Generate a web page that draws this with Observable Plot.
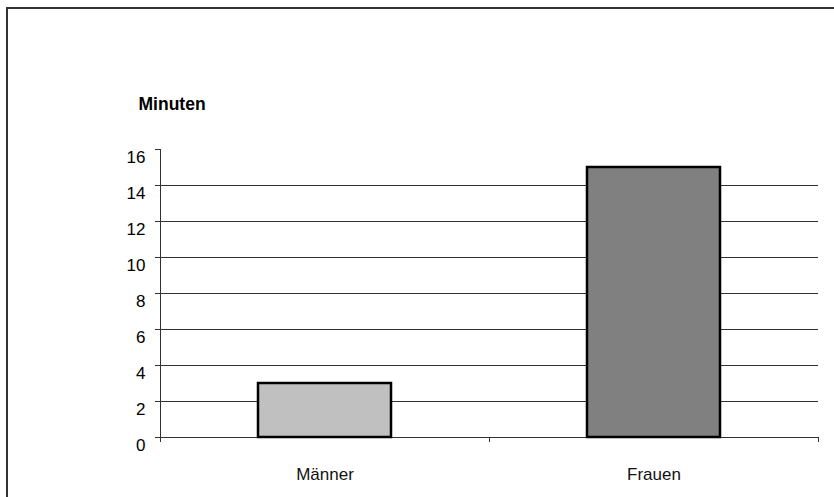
<!DOCTYPE html>
<html>
<head>
<meta charset="utf-8">
<script src="https://cdn.jsdelivr.net/npm/d3@7"></script>
<script src="https://cdn.jsdelivr.net/npm/@observablehq/plot@0.6"></script>
<style>
  html, body { margin: 0; padding: 0; background: #fff; }
  #wrap { position: relative; width: 834px; height: 497px; overflow: hidden; }
  #frame { position: absolute; left: 6px; top: 7px; width: 900px; height: 600px;
           border-left: 2px solid #333; border-top: 2px solid #333; box-sizing: border-box; }
  #chart { position: absolute; left: 0; top: 0; }
</style>
</head>
<body>
<div id="wrap"><div id="frame"></div><div id="chart"></div></div>
<script>
const categories = ["Männer", "Frauen"];
const values = [3, 15];
const barColors = ["#c0c0c0", "#808080"];
const yTicks = [0, 2, 4, 6, 8, 10, 12, 14, 16];
const gridValues = [2, 4, 6, 8, 10, 12, 14];
const yTitle = "Minuten";

const data = categories.map((c, i) => ({cat: c, value: values[i], color: barColors[i]}));
const font = "'Liberation Sans', Arial, sans-serif";

const chart = Plot.plot({
  width: 834,
  height: 497,
  marginLeft: 160,
  marginRight: 16,
  marginTop: 149,
  marginBottom: 60,
  style: {fontFamily: font, background: "transparent", color: "#000"},
  x: {domain: categories, paddingInner: 0.595, paddingOuter: 0.2975},
  y: {domain: [0, 16]},
  color: {type: "identity"},
  marks: [
    Plot.gridY(gridValues, {stroke: "#333", strokeOpacity: 1, strokeWidth: 1}),
    Plot.ruleY([0], {stroke: "#333", strokeWidth: 1}),
    Plot.frame({anchor: "left", stroke: "#333", strokeWidth: 1}),
    Plot.axisY({ticks: yTicks, tickSize: 5, tickFormat: () => "", label: null, stroke: "#333"}),
    Plot.axisY({ticks: yTicks, tickSize: 0, tickPadding: 15, fontSize: 17, dy: 8, label: null, fill: "#000"}),
    Plot.axisX({tickSize: 0, tickPadding: 30, fontSize: 17, label: null, fill: "#111"}),
    Plot.barY(data, {x: "cat", y: "value", fill: "color", stroke: "#000", strokeWidth: 2.5}),
    Plot.text([yTitle], {frameAnchor: "top-left", dx: -22, dy: -52, lineAnchor: "top", textAnchor: "start", fontSize: 17.5, fontWeight: "bold", fill: "#000"})
  ]
});

document.getElementById("chart").appendChild(chart);

// category boundary ticks on the x axis, computed from the band scale
const xs = chart.scale("x");
const ys = chart.scale("y");
const gap = (xs.step - xs.bandwidth) / 2;
const bounds = categories.map(c => xs.apply(c) - gap);
bounds.push(xs.apply(categories[categories.length - 1]) + xs.bandwidth + gap);
const y0 = ys.apply(0);
d3.select(chart).append("g")
  .attr("stroke", "#333")
  .attr("stroke-width", 1)
  .selectAll("line")
  .data(bounds)
  .join("line")
  .attr("x1", d => Math.round(d) + 0.5)
  .attr("x2", d => Math.round(d) + 0.5)
  .attr("y1", y0)
  .attr("y2", y0 + 5);
</script>
</body>
</html>
